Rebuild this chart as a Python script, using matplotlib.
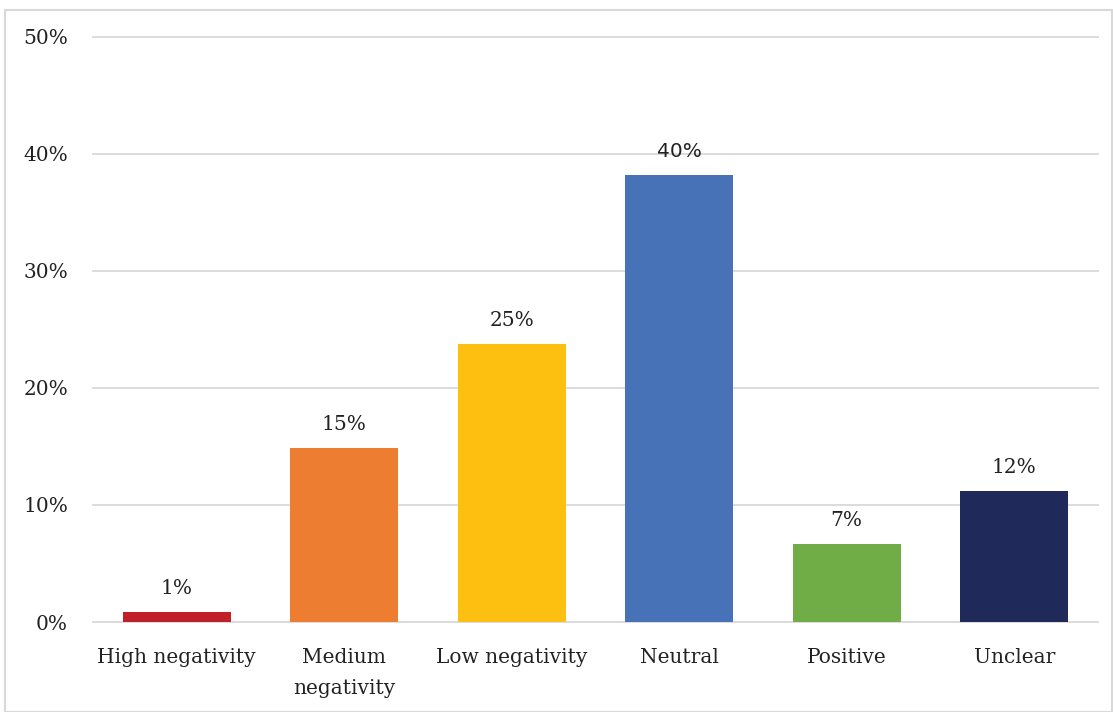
import matplotlib.pyplot as plt
from matplotlib.patches import Rectangle

categories = ['High negativity', 'Medium\nnegativity', 'Low negativity', 'Neutral', 'Positive', 'Unclear']
values = [0.85, 14.9, 23.8, 38.2, 6.7, 11.2]
value_labels = ['1%', '15%', '25%', '40%', '7%', '12%']
colors = ['#C0202A', '#ED7D31', '#FDC010', '#4872B8', '#70AD47', '#202A5A']
yticks = [0, 10, 20, 30, 40, 50]

plt.rcParams['font.family'] = ['DejaVu Serif']

fig = plt.figure(figsize=(11.13, 7.12), dpi=100)
fig.patches.append(Rectangle((5 / 1113, 0), 1 - 6 / 1113, 1 - 10 / 712, transform=fig.transFigure,
                             fill=False, edgecolor='#D9D9D9', linewidth=1.5))
ax = fig.add_axes([93 / 1113, 1 - 622 / 712, 1005 / 1113, 585 / 712])

x = range(len(categories))
ax.bar(x, values, width=0.645, color=colors, zorder=3)
ax.set_xlim(-0.5, len(categories) - 0.5)
ax.set_ylim(0, 50)
ax.set_yticks(yticks)
ax.set_yticklabels([f'{t}%' for t in yticks], fontsize=14.5, color='#222222')
ax.set_xticks(list(x))
ax.set_xticklabels(categories, fontsize=14.5, color='#222222', linespacing=1.75)
ax.tick_params(axis='both', length=0)
ax.tick_params(axis='y', pad=18)
ax.tick_params(axis='x', pad=19)
for t in yticks:
    ax.axhline(t, color='#D9D9D9', linewidth=1.3, zorder=1, clip_on=False)
for s in ax.spines.values():
    s.set_visible(False)

for i, (v, lab) in enumerate(zip(values, value_labels)):
    fam = 'DejaVu Sans' if lab == '40%' else 'DejaVu Serif'
    ax.annotate(lab, (i, v), xytext=(0, 10), textcoords='offset points', ha='center', va='bottom',
                fontsize=14.5, color='#222222', family=fam)

fig.savefig('out.png', dpi=100)
